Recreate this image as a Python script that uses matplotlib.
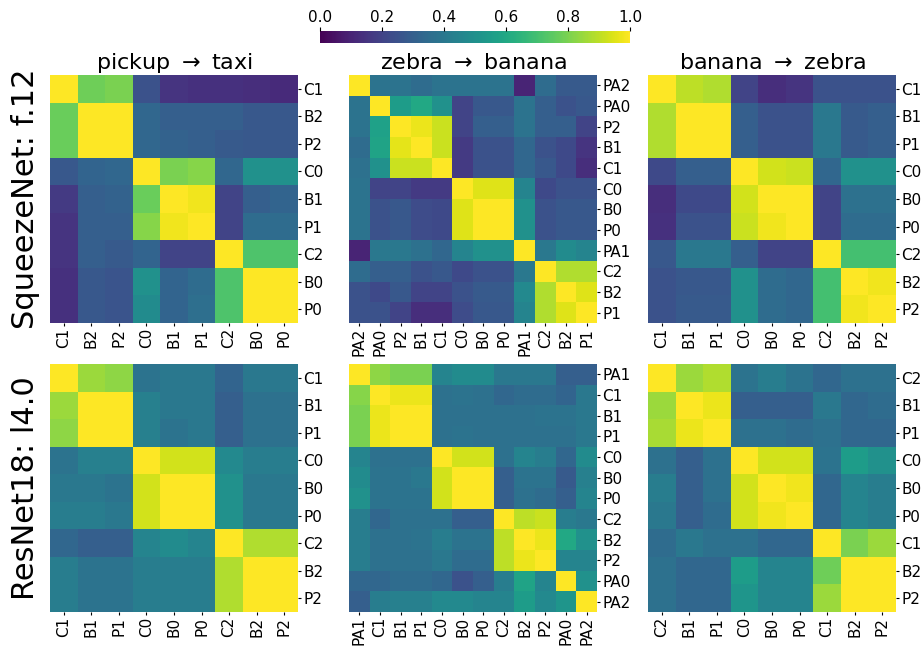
import numpy as np
import matplotlib
matplotlib.use("Agg")
import matplotlib.pyplot as plt

# ---------------- data ----------------
labels_sq_pt = ["C1", "B2", "P2", "C0", "B1", "P1", "C2", "B0", "P0"]
vals_sq_pt = [
    [1.00, 0.78, 0.80, 0.25, 0.15, 0.14, 0.14, 0.13, 0.12],
    [0.77, 1.00, 1.00, 0.33, 0.30, 0.30, 0.30, 0.27, 0.27],
    [0.77, 1.00, 1.00, 0.33, 0.31, 0.30, 0.28, 0.27, 0.27],
    [0.27, 0.32, 0.33, 1.00, 0.80, 0.82, 0.33, 0.50, 0.50],
    [0.17, 0.30, 0.31, 0.77, 1.00, 0.98, 0.20, 0.30, 0.32],
    [0.15, 0.30, 0.30, 0.82, 0.98, 1.00, 0.20, 0.35, 0.35],
    [0.15, 0.30, 0.28, 0.32, 0.20, 0.20, 1.00, 0.72, 0.72],
    [0.14, 0.27, 0.26, 0.50, 0.32, 0.35, 0.72, 1.00, 1.00],
    [0.14, 0.27, 0.26, 0.48, 0.32, 0.36, 0.72, 1.00, 1.00],
]

labels_sq_zb = ["PA2", "PA0", "P2", "B1", "C1", "C0", "B0", "P0", "PA1", "C2", "B2", "P1"]
vals_sq_zb = [
    [1.00, 0.38, 0.38, 0.35, 0.38, 0.38, 0.38, 0.38, 0.10, 0.35, 0.28, 0.28],
    [0.38, 1.00, 0.55, 0.60, 0.50, 0.20, 0.27, 0.27, 0.38, 0.30, 0.25, 0.27],
    [0.38, 0.57, 1.00, 0.97, 0.92, 0.20, 0.30, 0.30, 0.38, 0.30, 0.30, 0.20],
    [0.35, 0.58, 0.96, 1.00, 0.92, 0.17, 0.25, 0.25, 0.33, 0.25, 0.22, 0.15],
    [0.37, 0.50, 0.92, 0.92, 1.00, 0.17, 0.25, 0.25, 0.33, 0.27, 0.22, 0.13],
    [0.38, 0.20, 0.20, 0.17, 0.17, 1.00, 0.95, 0.95, 0.45, 0.22, 0.25, 0.25],
    [0.38, 0.25, 0.27, 0.23, 0.22, 0.95, 1.00, 1.00, 0.50, 0.25, 0.27, 0.27],
    [0.38, 0.25, 0.27, 0.23, 0.22, 0.95, 1.00, 1.00, 0.50, 0.25, 0.27, 0.27],
    [0.10, 0.40, 0.40, 0.37, 0.33, 0.45, 0.50, 0.50, 1.00, 0.40, 0.48, 0.45],
    [0.35, 0.30, 0.30, 0.25, 0.27, 0.22, 0.25, 0.25, 0.40, 1.00, 0.88, 0.88],
    [0.25, 0.22, 0.27, 0.20, 0.20, 0.25, 0.28, 0.28, 0.47, 0.88, 1.00, 0.95],
    [0.25, 0.25, 0.20, 0.13, 0.13, 0.23, 0.27, 0.27, 0.45, 0.88, 0.95, 1.00],
]

labels_sq_bz = ["C1", "B1", "P1", "C0", "B0", "P0", "C2", "B2", "P2"]
vals_sq_bz = [
    [1.00, 0.90, 0.88, 0.20, 0.13, 0.15, 0.25, 0.25, 0.25],
    [0.88, 1.00, 1.00, 0.30, 0.25, 0.25, 0.40, 0.28, 0.30],
    [0.88, 1.00, 1.00, 0.30, 0.25, 0.25, 0.40, 0.28, 0.30],
    [0.22, 0.30, 0.30, 1.00, 0.93, 0.92, 0.33, 0.50, 0.50],
    [0.13, 0.22, 0.22, 0.93, 1.00, 1.00, 0.20, 0.37, 0.37],
    [0.14, 0.25, 0.25, 0.92, 0.98, 1.00, 0.20, 0.35, 0.35],
    [0.27, 0.40, 0.40, 0.30, 0.20, 0.20, 1.00, 0.70, 0.70],
    [0.25, 0.27, 0.27, 0.50, 0.35, 0.33, 0.70, 1.00, 0.98],
    [0.25, 0.28, 0.28, 0.50, 0.35, 0.33, 0.70, 0.98, 1.00],
]

labels_rn_pt = ["C1", "B1", "P1", "C0", "B0", "P0", "C2", "B2", "P2"]
vals_rn_pt = [
    [1.00, 0.85, 0.83, 0.38, 0.40, 0.40, 0.32, 0.40, 0.40],
    [0.85, 1.00, 1.00, 0.43, 0.40, 0.40, 0.30, 0.37, 0.37],
    [0.83, 1.00, 1.00, 0.43, 0.38, 0.40, 0.30, 0.37, 0.37],
    [0.38, 0.43, 0.43, 1.00, 0.93, 0.93, 0.47, 0.42, 0.42],
    [0.40, 0.40, 0.38, 0.93, 1.00, 1.00, 0.50, 0.40, 0.40],
    [0.42, 0.42, 0.40, 0.93, 1.00, 1.00, 0.50, 0.40, 0.40],
    [0.33, 0.30, 0.30, 0.45, 0.48, 0.45, 1.00, 0.88, 0.88],
    [0.42, 0.38, 0.38, 0.42, 0.42, 0.42, 0.88, 1.00, 1.00],
    [0.42, 0.38, 0.38, 0.42, 0.42, 0.42, 0.88, 1.00, 1.00],
]

labels_rn_zb = ["PA1", "C1", "B1", "P1", "C0", "B0", "P0", "C2", "B2", "P2", "PA0", "PA2"]
vals_rn_zb = [
    [1.00, 0.83, 0.80, 0.80, 0.45, 0.48, 0.48, 0.40, 0.40, 0.40, 0.30, 0.30],
    [0.82, 1.00, 0.97, 0.97, 0.37, 0.38, 0.37, 0.33, 0.35, 0.35, 0.32, 0.40],
    [0.80, 0.97, 1.00, 1.00, 0.37, 0.37, 0.37, 0.37, 0.37, 0.38, 0.38, 0.40],
    [0.80, 0.97, 1.00, 1.00, 0.37, 0.38, 0.37, 0.37, 0.37, 0.37, 0.37, 0.40],
    [0.45, 0.37, 0.37, 0.37, 1.00, 0.93, 0.93, 0.37, 0.45, 0.42, 0.33, 0.48],
    [0.48, 0.38, 0.38, 0.40, 0.93, 1.00, 1.00, 0.30, 0.38, 0.38, 0.28, 0.43],
    [0.50, 0.38, 0.38, 0.38, 0.93, 1.00, 1.00, 0.30, 0.37, 0.35, 0.30, 0.45],
    [0.42, 0.33, 0.37, 0.37, 0.37, 0.30, 0.30, 1.00, 0.90, 0.92, 0.42, 0.40],
    [0.42, 0.37, 0.37, 0.38, 0.42, 0.38, 0.38, 0.90, 1.00, 0.97, 0.60, 0.50],
    [0.42, 0.37, 0.37, 0.37, 0.40, 0.35, 0.35, 0.90, 0.97, 1.00, 0.45, 0.45],
    [0.33, 0.33, 0.35, 0.35, 0.33, 0.25, 0.30, 0.42, 0.58, 0.45, 1.00, 0.50],
    [0.30, 0.42, 0.43, 0.43, 0.47, 0.47, 0.45, 0.45, 0.55, 0.47, 0.52, 1.00],
]

labels_rn_bz = ["C2", "B1", "P1", "C0", "B0", "P0", "C1", "B2", "P2"]
vals_rn_bz = [
    [1.00, 0.85, 0.88, 0.38, 0.42, 0.38, 0.33, 0.37, 0.37],
    [0.85, 1.00, 0.97, 0.30, 0.30, 0.30, 0.40, 0.33, 0.35],
    [0.87, 0.97, 1.00, 0.37, 0.37, 0.35, 0.37, 0.33, 0.33],
    [0.37, 0.30, 0.37, 1.00, 0.93, 0.93, 0.38, 0.55, 0.50],
    [0.42, 0.30, 0.37, 0.93, 1.00, 0.98, 0.33, 0.45, 0.42],
    [0.40, 0.30, 0.35, 0.93, 0.98, 1.00, 0.33, 0.45, 0.42],
    [0.35, 0.40, 0.37, 0.37, 0.33, 0.33, 1.00, 0.80, 0.85],
    [0.37, 0.33, 0.33, 0.55, 0.45, 0.45, 0.78, 1.00, 1.00],
    [0.37, 0.33, 0.33, 0.52, 0.45, 0.45, 0.85, 1.00, 1.00],
]

col_titles = [r"pickup $\rightarrow$ taxi", r"zebra $\rightarrow$ banana", r"banana $\rightarrow$ zebra"]
row_titles = ["SqueezeNet: f.12", "ResNet18: l4.0"]

panels = [
    [(labels_sq_pt, vals_sq_pt), (labels_sq_zb, vals_sq_zb), (labels_sq_bz, vals_sq_bz)],
    [(labels_rn_pt, vals_rn_pt), (labels_rn_zb, vals_rn_zb), (labels_rn_bz, vals_rn_bz)],
]

# ---------------- layout ----------------
W, H = 923, 646
fig = plt.figure(figsize=(W / 100, H / 100), dpi=100)
plt.rcParams["mathtext.fontset"] = "dejavusans"

lefts = [50, 349, 648]
tops = [75, 364]
size = 248

def px_rect(x, y, w, h):
    return [x / W, 1 - (y + h) / H, w / W, h / H]

im = None
for r in range(2):
    for c in range(3):
        labs, vals = panels[r][c]
        arr = np.array(vals)
        n = len(labs)
        ax = fig.add_axes(px_rect(lefts[c], tops[r], size, size))
        im = ax.pcolormesh(np.arange(n + 1), np.arange(n + 1), arr,
                           cmap="viridis", vmin=0, vmax=1)
        ax.set_xlim(0, n)
        ax.set_ylim(n, 0)
        ax.set_xticks(np.arange(n) + 0.5)
        ax.set_xticklabels(labs, rotation=90, fontsize=11)
        ax.set_yticks(np.arange(n) + 0.5)
        ax.set_yticklabels(labs, fontsize=11)
        ax.yaxis.tick_right()
        ax.tick_params(axis="both", length=2.5, width=0.8, pad=1.2)
        for s in ax.spines.values():
            s.set_visible(False)
        if r == 0:
            ax.set_title(col_titles[c], fontsize=16, pad=4)
        if c == 0:
            ax.text(-0.1, 0.5, row_titles[r], transform=ax.transAxes,
                    rotation=90, fontsize=22, ha="center", va="center")

cax = fig.add_axes(px_rect(320, 31, 310, 12))
cb = fig.colorbar(im, cax=cax, orientation="horizontal")
cb.set_ticks([0.0, 0.2, 0.4, 0.6, 0.8, 1.0])
cb.ax.xaxis.set_ticks_position("top")
cb.ax.tick_params(labelsize=11, length=3, width=0.8, pad=1)
cb.outline.set_visible(False)

fig.savefig("out.png", dpi=100)
